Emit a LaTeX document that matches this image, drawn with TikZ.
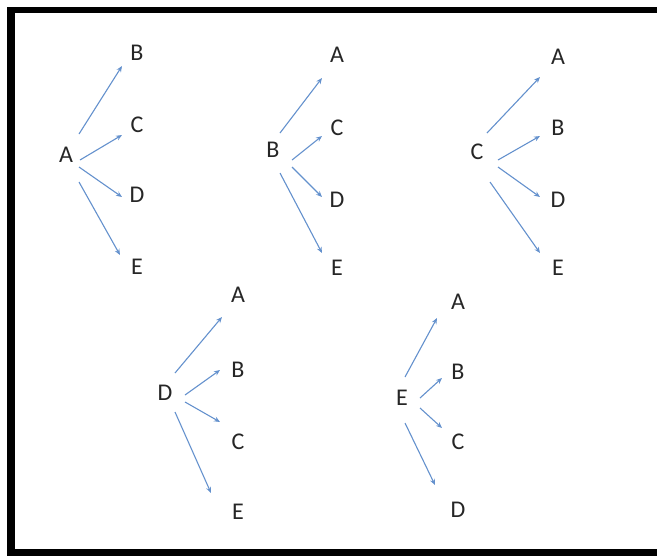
\documentclass[tikz,border=0pt]{standalone}
\usepackage{fontspec}
\setmainfont{Carlito}
\usetikzlibrary{arrows.meta}
\definecolor{arrowblue}{RGB}{100,145,205}
\tikzset{
  letter/.style={inner sep=0pt, anchor=center, font=\fontsize{24}{24}\selectfont, text=black!85},
  arr/.style={draw=arrowblue, line width=1.1pt, -{Stealth[length=6pt,width=5pt]}},
  frame/.style={fill=black, draw=none}
}
\begin{document}
\begin{tikzpicture}[x=1pt,y=-1pt]
  \useasboundingbox (0,0) rectangle (657,558);
  % frame
  \fill[frame] (7,7) rectangle (657,13);
  \fill[frame] (7,7) rectangle (15,556);
  \fill[frame] (7,549) rectangle (657,556);

  % group 1: A
  \node[letter] (a1) at (66,155) {A};
  \node[letter] (a1b) at (137,53) {B};
  \node[letter] (a1c) at (137,125) {C};
  \node[letter] (a1d) at (137,195) {D};
  \node[letter] (a1e) at (137,267) {E};
  \draw[arr] ([shift={(13,-21)}]a1.center) -- ([shift={(-15,13)}]a1b.center);
  \draw[arr] ([shift={(14,5)}]a1.center) -- ([shift={(-15,10)}]a1c.center);
  \draw[arr] ([shift={(13,12)}]a1.center) -- ([shift={(-15,2)}]a1d.center);
  \draw[arr] ([shift={(13,27)}]a1.center) -- ([shift={(-17,-12)}]a1e.center);

  % group 2: B
  \node[letter] (b2) at (273,150) {B};
  \node[letter] (b2a) at (337,55) {A};
  \node[letter] (b2c) at (337,128) {C};
  \node[letter] (b2d) at (337,200) {D};
  \node[letter] (b2e) at (337,268) {E};
  \draw[arr] ([shift={(7,-17)}]b2.center) -- ([shift={(-15,23)}]b2a.center);
  \draw[arr] ([shift={(19,10)}]b2.center) -- ([shift={(-15,8)}]b2c.center);
  \draw[arr] ([shift={(19,17)}]b2.center) -- ([shift={(-15,-3)}]b2d.center);
  \draw[arr] ([shift={(7,23)}]b2.center) -- ([shift={(-15,-15)}]b2e.center);

  % group 3: C
  \node[letter] (c3) at (477,152) {C};
  \node[letter] (c3a) at (558,57) {A};
  \node[letter] (c3b) at (558,128) {B};
  \node[letter] (c3d) at (558,200) {D};
  \node[letter] (c3e) at (558,268) {E};
  \draw[arr] ([shift={(10,-19)}]c3.center) -- ([shift={(-18,20)}]c3a.center);
  \draw[arr] ([shift={(21,8)}]c3.center) -- ([shift={(-18,8)}]c3b.center);
  \draw[arr] ([shift={(21,15)}]c3.center) -- ([shift={(-18,-3)}]c3d.center);
  \draw[arr] ([shift={(13,30)}]c3.center) -- ([shift={(-18,-15)}]c3e.center);

  % group 4: D
  \node[letter] (d4) at (165,393) {D};
  \node[letter] (d4a) at (238,295) {A};
  \node[letter] (d4b) at (238,370) {B};
  \node[letter] (d4c) at (238,442) {C};
  \node[letter] (d4e) at (238,512) {E};
  \draw[arr] ([shift={(10,-20)}]d4.center) -- ([shift={(-16,22)}]d4a.center);
  \draw[arr] ([shift={(20,2)}]d4.center) -- ([shift={(-18,0)}]d4b.center);
  \draw[arr] ([shift={(20,9)}]d4.center) -- ([shift={(-18,-20)}]d4c.center);
  \draw[arr] ([shift={(10,19)}]d4.center) -- ([shift={(-27,-19)}]d4e.center);

  % group 5: E
  \node[letter] (e5) at (402,398) {E};
  \node[letter] (e5a) at (458,302) {A};
  \node[letter] (e5b) at (458,372) {B};
  \node[letter] (e5c) at (458,442) {C};
  \node[letter] (e5d) at (458,510) {D};
  \draw[arr] ([shift={(3,-21)}]e5.center) -- ([shift={(-21,16)}]e5a.center);
  \draw[arr] ([shift={(18,0)}]e5.center) -- ([shift={(-16,6)}]e5b.center);
  \draw[arr] ([shift={(18,10)}]e5.center) -- ([shift={(-16,-14)}]e5c.center);
  \draw[arr] ([shift={(3,25)}]e5.center) -- ([shift={(-23,-25)}]e5d.center);
\end{tikzpicture}
\end{document}
